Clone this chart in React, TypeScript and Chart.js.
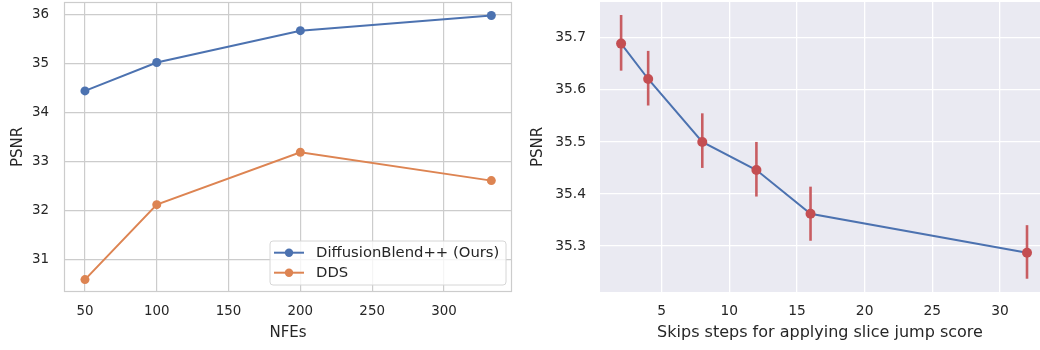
import React, { useEffect, useRef } from "react";
import { Chart, registerables } from "chart.js";

Chart.register(...registerables);

const FONT = "DejaVu Sans";
const TEXT = "#262626";

// Left panel: PSNR vs NFEs
const nfes = [50, 100, 200, 333];
const blendPsnr = [34.45, 35.03, 35.68, 35.99];
const ddsPsnr = [30.6, 32.13, 33.2, 32.62];
const nfeTicks = [50, 100, 150, 200, 250, 300];
const leftPsnrTicks = [31, 32, 33, 34, 35, 36];
const leftLabels = ["DiffusionBlend++ (Ours)", "DDS"];

// Right panel: PSNR vs skip steps
const skipSteps = [2, 4, 8, 12, 16, 32];
const skipPsnr = [35.689, 35.621, 35.5, 35.446, 35.362, 35.287];
const skipLow = [35.637, 35.57, 35.45, 35.395, 35.31, 35.237];
const skipHigh = [35.744, 35.675, 35.555, 35.5, 35.414, 35.34];
const skipTicks = [5, 10, 15, 20, 25, 30];
const rightPsnrTicks = [35.3, 35.4, 35.5, 35.6, 35.7];

const BLUE = "#4C72B0";
const ORANGE = "#DD8452";
const RED = "#C44E52";

const framePlugin = {
  id: "frame",
  beforeDatasetsDraw(chart: any) {
    const { ctx, chartArea: a } = chart;
    ctx.save();
    ctx.strokeStyle = "#cccccc";
    ctx.lineWidth = 1.2;
    ctx.strokeRect(Math.round(a.left) + 0.5, Math.round(a.top) + 0.5, Math.round(a.right - a.left) - 1, Math.round(a.bottom - a.top) - 1);
    ctx.restore();
  },
};

const legendPlugin = {
  id: "innerLegend",
  afterDraw(chart: any) {
    const { ctx } = chart;
    const ds = chart.data.datasets;
    const x0 = 270, y0 = 241, w = 236, h = 44, r = 3;
    ctx.save();
    ctx.beginPath();
    ctx.moveTo(x0 + r, y0);
    ctx.arcTo(x0 + w, y0, x0 + w, y0 + h, r);
    ctx.arcTo(x0 + w, y0 + h, x0, y0 + h, r);
    ctx.arcTo(x0, y0 + h, x0, y0, r);
    ctx.arcTo(x0, y0, x0 + w, y0, r);
    ctx.closePath();
    ctx.fillStyle = "rgba(255,255,255,0.8)";
    ctx.fill();
    ctx.strokeStyle = "#d6d6d6";
    ctx.lineWidth = 1;
    ctx.stroke();
    ds.forEach((d: any, i: number) => {
      const cy = 252.7 + i * 20;
      ctx.strokeStyle = d.borderColor;
      ctx.lineWidth = 2;
      ctx.beginPath();
      ctx.moveTo(274, cy);
      ctx.lineTo(304, cy);
      ctx.stroke();
      ctx.fillStyle = d.borderColor;
      ctx.beginPath();
      ctx.arc(289, cy, 4.2, 0, Math.PI * 2);
      ctx.fill();
      ctx.fillStyle = TEXT;
      ctx.font = `14.8px "${FONT}"`;
      ctx.textBaseline = "middle";
      ctx.textAlign = "left";
      ctx.fillText(d.label, 316, cy);
    });
    ctx.restore();
  },
};

const bgPlugin = {
  id: "bg",
  beforeDraw(chart: any) {
    const { ctx, chartArea: a } = chart;
    ctx.save();
    ctx.fillStyle = "#EAEAF2";
    ctx.fillRect(a.left, a.top, a.right - a.left, a.bottom - a.top);
    ctx.restore();
  },
};

const errorBarPlugin = {
  id: "errbars",
  afterDatasetDraw(chart: any, args: any) {
    if (args.index !== 0) return;
    const { ctx, scales } = chart;
    ctx.save();
    ctx.strokeStyle = RED;
    ctx.globalAlpha = 0.9;
    ctx.lineWidth = 2.6;
    skipSteps.forEach((s, i) => {
      const x = scales.x.getPixelForValue(s);
      ctx.beginPath();
      ctx.moveTo(x, scales.y.getPixelForValue(skipLow[i]));
      ctx.lineTo(x, scales.y.getPixelForValue(skipHigh[i]));
      ctx.stroke();
    });
    ctx.restore();
  },
};

function axis(min: number, max: number, ticks: number[], opts: any) {
  return {
    type: "linear",
    min,
    max,
    afterBuildTicks: (s: any) => {
      s.ticks = ticks.map((v) => ({ value: v }));
    },
    ticks: {
      font: { family: FONT, size: opts.tickSize },
      color: TEXT,
      padding: opts.padding,
      callback: (v: any) => String(v),
    },
    grid: { color: opts.gridColor, lineWidth: opts.gridWidth, drawTicks: false },
    border: { display: false },
    title: {
      display: true,
      text: opts.title,
      font: { family: FONT, size: opts.titleSize },
      color: TEXT,
      padding: opts.titlePadding,
    },
    afterFit: (s: any) => {
      if (opts.height) s.height = opts.height;
      if (opts.width) s.width = opts.width;
      s.paddingTop = 0;
      s.paddingBottom = 0;
      s.paddingLeft = 0;
      s.paddingRight = 0;
    },
  };
}

export default function App() {
  const leftRef = useRef<HTMLCanvasElement>(null);
  const rightRef = useRef<HTMLCanvasElement>(null);

  useEffect(() => {
    const left = new Chart(leftRef.current as HTMLCanvasElement, {
      type: "line",
      data: {
        datasets: [
          {
            label: leftLabels[0],
            data: nfes.map((x, i) => ({ x, y: blendPsnr[i] })),
            borderColor: BLUE,
            backgroundColor: BLUE,
            borderWidth: 2,
            pointRadius: 4.5,
            pointBorderWidth: 0,
          },
          {
            label: leftLabels[1],
            data: nfes.map((x, i) => ({ x, y: ddsPsnr[i] })),
            borderColor: ORANGE,
            backgroundColor: ORANGE,
            borderWidth: 2,
            pointRadius: 4.5,
            pointBorderWidth: 0,
          },
        ],
      },
      options: {
        responsive: false,
        animation: false,
        layout: { autoPadding: false, padding: { top: 2, right: 8, left: 0, bottom: 0 } },
        plugins: { legend: { display: false }, tooltip: { enabled: false } },
        scales: {
          x: axis(35.4, 347.4, nfeTicks, {
            padding: 11,
            tickSize: 13.4,
            titleSize: 15,
            gridColor: "#cccccc",
            gridWidth: 1.2,
            title: "NFEs",
            titlePadding: { top: 0, bottom: 8 },
            height: 58,
          }),
          y: axis(30.347, 36.265, leftPsnrTicks, {
            padding: 15,
            tickSize: 13.4,
            titleSize: 15,
            gridColor: "#cccccc",
            gridWidth: 1.2,
            title: "PSNR",
            titlePadding: { top: 9, bottom: 0 },
            width: 64,
          }),
        },
      } as any,
      plugins: [framePlugin, legendPlugin],
    });

    const right = new Chart(rightRef.current as HTMLCanvasElement, {
      type: "line",
      data: {
        datasets: [
          {
            label: "line",
            data: skipSteps.map((x, i) => ({ x, y: skipPsnr[i] })),
            borderColor: BLUE,
            borderWidth: 2,
            pointRadius: 0,
            order: 2,
          },
          {
            label: "points",
            data: skipSteps.map((x, i) => ({ x, y: skipPsnr[i] })),
            showLine: false,
            borderColor: RED,
            backgroundColor: RED,
            pointRadius: 5,
            pointBorderWidth: 0,
            order: 1,
          },
        ],
      },
      options: {
        responsive: false,
        animation: false,
        layout: { autoPadding: false, padding: { top: 2, right: 0, left: 0, bottom: 0 } },
        plugins: { legend: { display: false }, tooltip: { enabled: false } },
        scales: {
          x: axis(0.44, 32.96, skipTicks, {
            padding: 11,
            tickSize: 13.8,
            titleSize: 16,
            gridColor: "#ffffff",
            gridWidth: 1.3,
            title: "Skips steps for applying slice jump score",
            titlePadding: { top: 0, bottom: 8 },
            height: 58,
          }),
          y: axis(35.2115, 35.769, rightPsnrTicks, {
            padding: 14,
            tickSize: 13.8,
            titleSize: 15,
            gridColor: "#ffffff",
            gridWidth: 1.3,
            title: "PSNR",
            titlePadding: { top: 9, bottom: 0 },
            width: 80,
          }),
        },
      } as any,
      plugins: [bgPlugin, errorBarPlugin],
    });

    return () => {
      left.destroy();
      right.destroy();
    };
  }, []);

  return (
    <div style={{ position: "absolute", left: 0, top: 0, width: 1040, height: 350, display: "flex", background: "#fff" }}>
      <canvas ref={leftRef} width={520} height={350} style={{ width: 520, height: 350, display: "block" }} />
      <canvas ref={rightRef} width={520} height={350} style={{ width: 520, height: 350, display: "block" }} />
    </div>
  );
}
